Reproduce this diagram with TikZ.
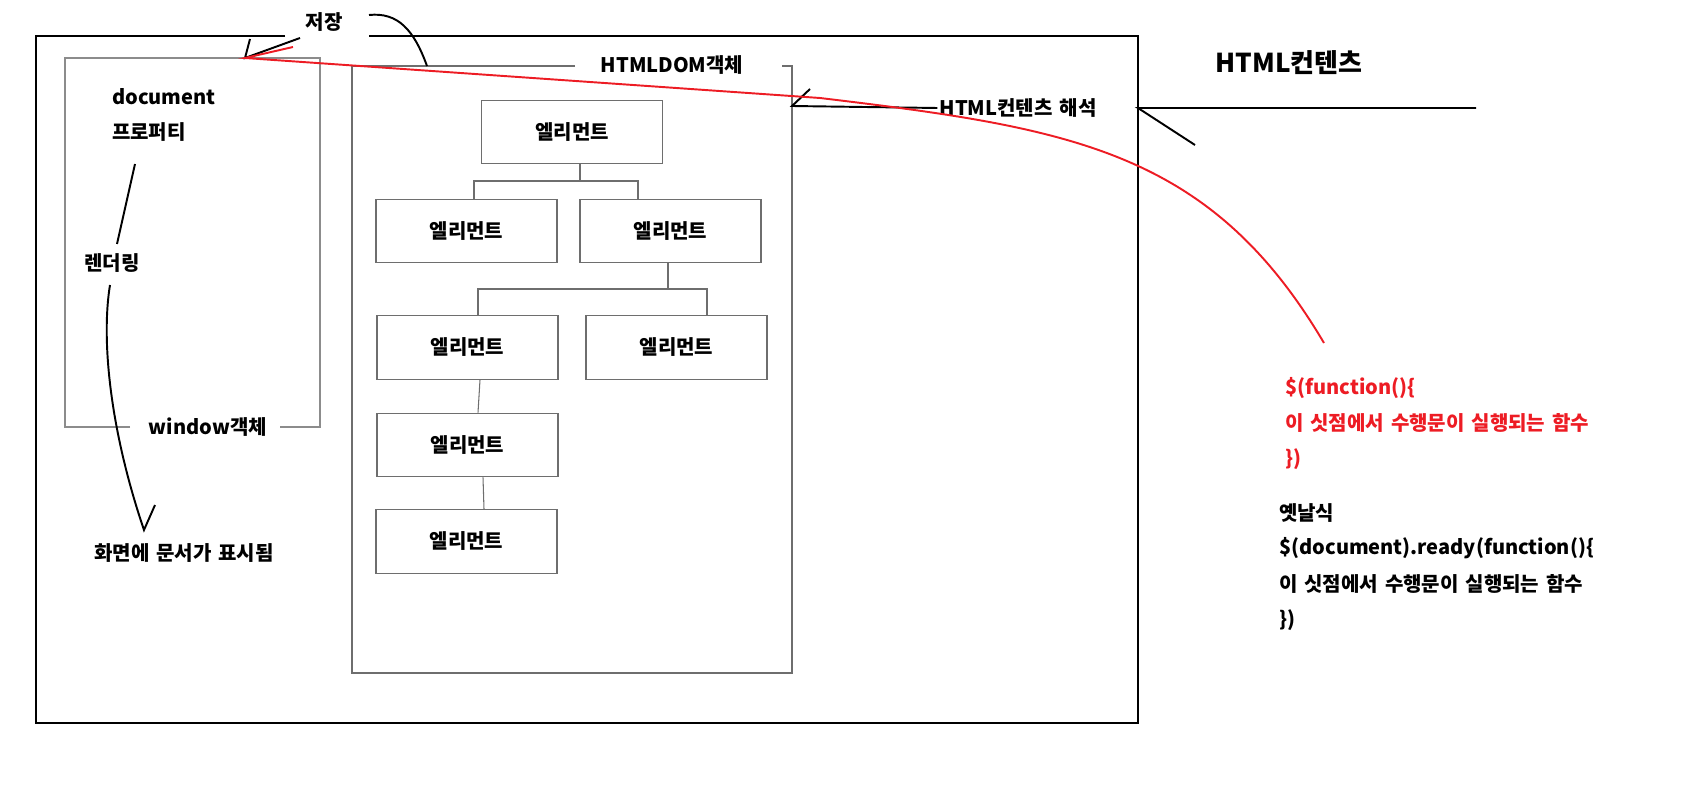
\documentclass[tikz,border=0pt]{standalone}
\usepackage{fontspec}
\setmainfont{Noto Sans CJK KR}[WordSpace=1.5]
\usetikzlibrary{calc}

\definecolor{paintred}{RGB}{237,28,36}
\definecolor{boxgray}{RGB}{110,110,110}
\definecolor{framegray}{RGB}{140,140,140}

\tikzstyle{txt} = [
    inner sep=1pt,
    font=\bfseries\fontsize{11.4}{13}\selectfont
]
\tikzstyle{bigtxt} = [
    inner sep=1pt,
    font=\bfseries\fontsize{14.8}{17}\selectfont
]
\tikzstyle{element} = [
    rectangle,
    minimum width=3.62cm,
    minimum height=1.27cm,
    draw=boxgray,
    line width=0.7pt,
    font=\bfseries\fontsize{11.4}{13}\selectfont
]
\tikzstyle{tree} = [draw=boxgray, line width=0.6pt]
\tikzstyle{pen} = [black, line width=1.1pt]
\tikzstyle{redpen} = [paintred, line width=1.1pt]

\begin{document}
\begin{tikzpicture}[x=0.02cm, y=-0.02cm]

\useasboundingbox (0,0) rectangle (1688,804);

% frames
\draw [pen] (285,36) -- (36,36) -- (36,723) -- (1138,723) -- (1138,36) -- (369,36);
\draw [framegray, line width=0.6pt] (130,427) -- (65,427) -- (65,58) -- (320,58) -- (320,427) -- (280,427);
\draw [boxgray, line width=0.6pt] (575,66) -- (352,66) -- (352,673) -- (792,673) -- (792,66) -- (782,66);

% labels on the frames
\node (savelbl) [txt] at (324,22) {저장};
\node (domlbl) [txt] at (672,65) {HTMLDOM객체};
\node (winlbl) [txt] at (208,427) {window객체};

% window side
\node (doclbl) [txt, anchor=west] at (110,97) {document};
\node (proplbl) [txt, anchor=west] at (110,132) {프로퍼티};
\node (renderlbl) [txt] at (112,263) {렌더링};
\node (showlbl) [txt] at (184,553) {화면에 문서가 표시됨};

% DOM tree
\node (e1) [element] at (572,132) {엘리먼트};
\node (e2) [element] at (466.5,231) {엘리먼트};
\node (e3) [element] at (670.5,231) {엘리먼트};
\node (e4) [element] at (467.5,347.5) {엘리먼트};
\node (e5) [element] at (676.5,347.5) {엘리먼트};
\node (e6) [element] at (467.5,445) {엘리먼트};
\node (e7) [element] at (466.5,541.5) {엘리먼트};

\draw [tree] (e1.south -| 580,0) -- (580,181) -| (e2.north -| 474,0);
\draw [tree] (580,181) -| (e3.north -| 638,0);
\draw [tree] (e3.south -| 668,0) -- (668,289) -| (e4.north -| 478,0);
\draw [tree] (668,289) -| (e5.north -| 707,0);
\draw [tree] (e4.south -| 480,0) -- (e6.north -| 478,0);
\draw [tree] (e6.south -| 483,0) -- (e7.north -| 484,0);

% right side
\node (parselbl) [txt] at (1018,108) {HTML컨텐츠 해석};
\node (htmllbl) [bigtxt] at (1289,63) {HTML컨텐츠};

\node (code1) [txt, text=paintred, anchor=west] at (1283,388) {\$(function()\{};
\node (code2) [txt, text=paintred, anchor=west] at (1283,423) {이 싯점에서 수행문이 실행되는 함수};
\node (code3) [txt, text=paintred, anchor=west] at (1283,459) {\})};
\node (old0) [txt, anchor=west] at (1277,513) {옛날식};
\node (old1) [txt, anchor=west] at (1277,548) {\$(document).ready(function()\{};
\node (old2) [txt, anchor=west] at (1277,584) {이 싯점에서 수행문이 실행되는 함수};
\node (old3) [txt, anchor=west] at (1277,620) {\})};

% arrows
\coordinate (winpt) at (245,58);
\coordinate (savefrom) at (300,38);
\coordinate (domtop) at (427,66);
\coordinate (domside) at (792,106);
\coordinate (outside) at (1138,108);
\coordinate (propfrom) at (135,164);
\coordinate (renderto) at (117,244);
\coordinate (renderfrom) at (110,285);
\coordinate (showpt) at (144,530);
\coordinate (codefrom) at (1324,343);

\draw [pen] (savefrom) -- (winpt) -- ++(5,-19);
\draw [pen] (369,15) .. controls (398,12) and (414,30) .. (domtop);
\draw [pen] (parselbl.west) -- (domside) -- ++(18,-17);
\draw [pen] (1476,108) -- (outside) -- ++(57,37);

\draw [pen] (propfrom) -- (renderto);
\draw [pen] (renderfrom) .. controls (101,340) and (110,430) .. (showpt) -- ++(11,-25);

\draw [redpen] (codefrom) .. controls (1210,150) and (1070,128) .. (820,98) -- (winpt) -- ++(48,-11);

\end{tikzpicture}
\end{document}
